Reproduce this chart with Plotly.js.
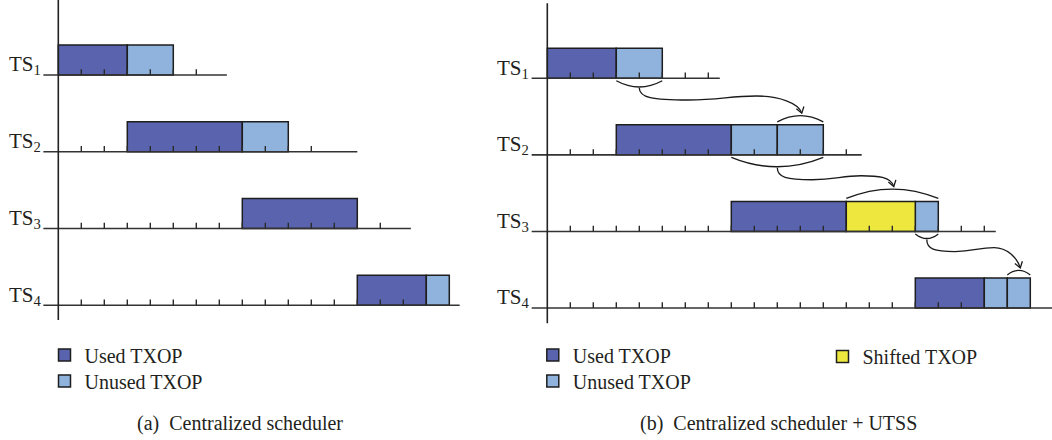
<!DOCTYPE html>
<html><head><meta charset="utf-8">
<script src="https://cdn.plot.ly/plotly-3.0.1.min.js"></script>
<style>html,body{margin:0;padding:0;background:#fff;} #chart{width:1052px;height:440px;}</style>
</head><body><div id="chart"></div>
<script>
// ---------------- data ----------------
const slotNames = ['TS<sub>1</sub>','TS<sub>2</sub>','TS<sub>3</sub>','TS<sub>4</sub>'];
const slotRows = [3,2,1,0];

// (a) Centralized scheduler
const aUsedRow = [3,2,1,0];
const aUsedStart = [0,3,8,13];
const aUsedEnd = [3,8,13,16];
const aUnusedRow = [3,2,0];
const aUnusedStart = [3,8,16];
const aUnusedEnd = [5,10,17];
const aTickLast = [6,11,14,15];
const aLineEnd = [7.33,13,15.33,17.45];

// (b) Centralized scheduler + UTSS
const bUsedRow = [3,2,1,0];
const bUsedStart = [0,3,8,16];
const bUsedEnd = [3,8,13,19];
const bUnusedRow = [3,2,2,1,0,0];
const bUnusedStart = [3,8,10,16,19,20];
const bUnusedEnd = [5,10,12,17,20,21];
const bShiftedRow = [1];
const bShiftedStart = [13];
const bShiftedEnd = [16];
const bTickLast = [7,13,19,18];
const bLineEnd = [7.5,13.67,19.5,22];

// unused TXOP handed over to the next slot
const shiftFromRow = [3,2,1];
const shiftFromStart = [3,8,16];
const shiftFromEnd = [5,12,17];
const shiftToRow = [2,1,0];
const shiftToStart = [10,13,20];
const shiftToEnd = [12,17,21];

const legendNames = ['Used TXOP','Unused TXOP','Shifted TXOP'];
const captions = ['(a)\u2002Centralized scheduler','(b)\u2002Centralized scheduler + UTSS'];

// ---------------- style / geometry ----------------
const W = 1052, H = 440;
const UNIT = 23;                // px per time unit
const FONT = "'Liberation Serif', 'Times New Roman', serif";
const TXT = '#231f20';
const EDGE = '#1e1e1e';
const C_USED = '#5a64ae', C_UNUSED = '#8fb3dc', C_SHIFT = '#eee83e';
const BOX_PX = 30, TICK_PX = 5.7;
const A = {x0:58.3, dom:[0,460], row0:305.3, rowPx:76.77, lineStart:-0.65, axBottom:320, axTop:0};
const B = {x0:547.3, dom:[490,1052], row0:308, rowPx:76.57, lineStart:-0.68, axBottom:323.3, axTop:3.3};

const xRange = p => [(p.dom[0]-p.x0)/UNIT, (p.dom[1]-p.x0)/UNIT];
const yRange = p => [-(H-p.row0)/p.rowPx, p.row0/p.rowPx];

function bars(rows, starts, ends, color, name, p, xa, ya, legend){
  const h = BOX_PX/p.rowPx;
  return {type:'bar', orientation:'h', y: rows.map(r=>r+h/2), base: starts,
    x: ends.map((e,i)=>e-starts[i]), width: h, name: name,
    marker:{color: color, line:{color: EDGE, width:1.5}},
    xaxis: xa, yaxis: ya, legend: legend, showlegend: true, hoverinfo:'skip'};
}
function baselines(lineEnd, p, xa, ya){
  const xs=[], ys=[];
  slotRows.forEach((r,i)=>{ xs.push(p.lineStart, lineEnd[i], null); ys.push(r, r, null); });
  return {type:'scatter', mode:'lines', x:xs, y:ys, line:{color:'#333', width:1.6},
    xaxis:xa, yaxis:ya, showlegend:false, hoverinfo:'skip'};
}
function ticks(last, p, xa, ya){
  const xs=[], ys=[];
  slotRows.forEach((r,i)=>{ for(let k=1;k<=last[i];k++){ xs.push(k,k,null); ys.push(r, r+TICK_PX/p.rowPx, null);} });
  return {type:'scatter', mode:'lines', x:xs, y:ys, line:{color:'#2a2a2a', width:1.4},
    xaxis:xa, yaxis:ya, showlegend:false, hoverinfo:'skip'};
}
function vAxis(p, xa, ya){
  return {type:'scatter', mode:'lines', x:[0,0], y:[(p.row0-p.axBottom)/p.rowPx,(p.row0-p.axTop)/p.rowPx],
    line:{color:'#222', width:1.6}, xaxis:xa, yaxis:ya, showlegend:false, hoverinfo:'skip'};
}

const traces = [
  bars(aUsedRow, aUsedStart, aUsedEnd, C_USED, legendNames[0], A, 'x', 'y', 'legend'),
  bars(aUnusedRow, aUnusedStart, aUnusedEnd, C_UNUSED, legendNames[1], A, 'x', 'y', 'legend4'),
  bars(bUsedRow, bUsedStart, bUsedEnd, C_USED, legendNames[0], B, 'x2', 'y2', 'legend2'),
  bars(bUnusedRow, bUnusedStart, bUnusedEnd, C_UNUSED, legendNames[1], B, 'x2', 'y2', 'legend5'),
  bars(bShiftedRow, bShiftedStart, bShiftedEnd, C_SHIFT, legendNames[2], B, 'x2', 'y2', 'legend3'),
  baselines(aLineEnd, A, 'x', 'y'),
  baselines(bLineEnd, B, 'x2', 'y2'),
  ticks(aTickLast, A, 'x', 'y'),
  ticks(bTickLast, B, 'x2', 'y2'),
  vAxis(A, 'x', 'y'),
  vAxis(B, 'x2', 'y2')
];

// ---------------- arrows (panel b) ----------------
const PX = x => B.x0 + UNIT*x;
const PY = r => B.row0 - r*B.rowPx;
const DX = px => (px - B.x0)/UNIT;
const DY = py => (B.row0 - py)/B.rowPx;
const pt = (x,y) => DX(x).toFixed(4)+','+DY(y).toFixed(4);
const shapes = [];
const LINE = {color:'#1a1a1a', width:1.3};
shiftFromRow.forEach((fr,i)=>{
  // brace under the source segment
  const s0 = PX(shiftFromStart[i]), s1 = PX(shiftFromEnd[i]);
  const sw = shiftFromEnd[i]-shiftFromStart[i];
  const sag = 3 + 1.6*sw;
  const se = PY(fr) + 2.5;
  const sm = (s0+s1)/2;
  shapes.push({type:'path', xref:'x2', yref:'y2', line:LINE,
    path:'M'+pt(s0,se)+' Q'+pt(sm,se+2*sag)+' '+pt(s1,se)});
  // brace over the target segment
  const t0 = PX(shiftToStart[i]), t1 = PX(shiftToEnd[i]);
  const tw = shiftToEnd[i]-shiftToStart[i];
  const tsag = 3 + 1.6*tw;
  const te = PY(shiftToRow[i]) - BOX_PX - 3;
  const tm = (t0+t1)/2;
  shapes.push({type:'path', xref:'x2', yref:'y2', line:LINE,
    path:'M'+pt(t0,te)+' Q'+pt(tm,te-2*tsag)+' '+pt(t1,te)});
  // connector
  const sx = sm, sy = se + sag + 1;
  const tx = tm + 1.5, ty = te - tsag - 2.5;
  const w = tx - sx, drop = 12, wave = 4;
  const yL = sy + drop, yC = yL - wave;
  const c2x = tx - 3, c2y = ty - 10;
  const path = 'M'+pt(sx,sy)+
    ' C'+pt(sx, sy+0.8*drop)+' '+pt(sx+0.08*w, yL)+' '+pt(sx+0.3*w, yL)+
    ' C'+pt(sx+0.5*w, yL)+' '+pt(sx+0.55*w, yC)+' '+pt(sx+0.72*w, yC)+
    ' C'+pt(sx+0.86*w, yC)+' '+pt(c2x, c2y)+' '+pt(tx, ty);
  shapes.push({type:'path', xref:'x2', yref:'y2', line:LINE, path:path});
  // arrow head
  let dx = tx - c2x, dy = ty - c2y; const L = Math.hypot(dx,dy); dx/=L; dy/=L;
  const ang = 34*Math.PI/180, len = 7;
  const arm = s => { const c=Math.cos(s*ang), sn=Math.sin(s*ang);
    const rx = -dx*c - (-dy)*sn, ry = -dx*sn + (-dy)*c; return [tx+len*rx, ty+len*ry]; };
  const a1 = arm(1), a2 = arm(-1);
  shapes.push({type:'path', xref:'x2', yref:'y2', line:LINE,
    path:'M'+pt(a1[0],a1[1])+' L'+pt(tx,ty)+' L'+pt(a2[0],a2[1])});
});

// ---------------- texts ----------------
const annotations = [];
slotRows.forEach((r,i)=>{
  annotations.push({xref:'x', yref:'y', x:-2.25, y:r+9.6/A.rowPx, xanchor:'left', yanchor:'middle',
    text:slotNames[i], showarrow:false, font:{family:FONT, size:21, color:TXT}});
  annotations.push({xref:'x2', yref:'y2', x:-2.26, y:r+9.6/B.rowPx, xanchor:'left', yanchor:'middle',
    text:slotNames[i], showarrow:false, font:{family:FONT, size:21, color:TXT}});
});
annotations.push({xref:'paper', yref:'paper', x:240/W, y:1-423/H, xanchor:'center', yanchor:'middle',
  text:captions[0], showarrow:false, font:{family:FONT, size:20, color:TXT}});
annotations.push({xref:'paper', yref:'paper', x:778/W, y:1-423/H, xanchor:'center', yanchor:'middle',
  text:captions[1], showarrow:false, font:{family:FONT, size:20, color:TXT}});

const legendStyle = (xpx, ypx) => ({x:xpx/W, xanchor:'left', y:1-ypx/H, yanchor:'top',
  bgcolor:'rgba(0,0,0,0)', borderwidth:0, font:{family:FONT, size:20, color:TXT},
  itemclick:false, itemdoubleclick:false, tracegroupgap:0});

const layout = {
  width:W, height:H, margin:{l:0,r:0,t:0,b:0},
  paper_bgcolor:'#fff', plot_bgcolor:'rgba(0,0,0,0)',
  barmode:'overlay', showlegend:true,
  xaxis:{domain:[A.dom[0]/W, A.dom[1]/W], range:xRange(A), visible:false, fixedrange:true},
  yaxis:{domain:[0,1], range:yRange(A), visible:false, fixedrange:true},
  xaxis2:{domain:[B.dom[0]/W, B.dom[1]/W], range:xRange(B), visible:false, anchor:'y2', fixedrange:true},
  yaxis2:{domain:[0,1], range:yRange(B), visible:false, anchor:'x2', fixedrange:true},
  legend: legendStyle(44.5, 335.5),
  legend4: legendStyle(44.5, 361.5),
  legend2: legendStyle(532.8, 335.5),
  legend5: legendStyle(532.8, 361.5),
  legend3: legendStyle(822.5, 337),
  annotations: annotations,
  shapes: shapes
};

Plotly.newPlot('chart', traces, layout, {displayModeBar:false, staticPlot:true});
</script>
</body></html>
